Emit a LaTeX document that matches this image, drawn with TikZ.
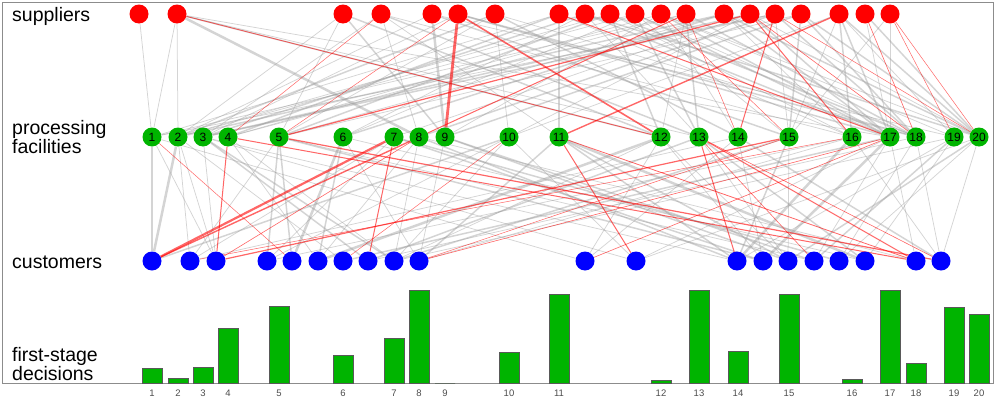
\documentclass[tikz,border=0pt]{standalone}
\usepackage{fontspec}
\setmainfont{Liberation Sans}
\usetikzlibrary{backgrounds}
\definecolor{supred}{HTML}{FF0000}
\definecolor{facgreen}{HTML}{00B400}
\definecolor{cusblue}{HTML}{0000FF}
\definecolor{framegray}{HTML}{8C8C8C}
\begin{document}
\begin{tikzpicture}[x=1pt, y=-1pt,
  sup/.style={circle, fill=supred, minimum size=19pt, inner sep=0pt},
  fac/.style={circle, fill=facgreen, minimum size=19pt, inner sep=0pt, font=\fontsize{12}{12}\selectfont},
  cus/.style={circle, fill=cusblue, minimum size=19pt, inner sep=0pt},
  lbl/.style={anchor=base west, align=left, inner sep=0pt, font=\fontsize{19.5}{19}\selectfont},
  num/.style={font=\fontsize{9.5}{9.5}\selectfont, text=black!70, inner sep=0pt},
  bar/.style={draw=black!65, fill=facgreen, line width=0.7pt},
  flow/.style={draw=black!40, draw opacity=0.42, line width=1.25*#1pt},
  hot/.style={draw=red, draw opacity=0.6, line width=#1pt}
]
  \useasboundingbox (0,0) rectangle (997,399);
  \draw[framegray, line width=1pt] (2,2) rectangle (993,383);

  % row labels (base = last line)
  \node[lbl] (lsup) at (12,21) {suppliers};
  \node[lbl] (lfac) at (12,153) {processing\\facilities};
  \node[lbl] (lcus) at (12,268) {customers};
  \node[lbl] (ldec) at (12,380) {first-stage\\decisions};

  % the three rows of the network
  \foreach \x [count=\i] in {139,177,343,381,432,458,495,559,585,610,635,661,686,724,750,775,801,839,865,890}
    \node[sup] (s\i) at (\x,14) {};
  \foreach \x [count=\i] in {152,178,203,228,279,343,394,419,445,509,559,661,699,738,789,852,890,916,954,979}
    \node[fac] (f\i) at (\x,137) {\i};
  \foreach \x [count=\i] in {152,190,216,267,292,318,343,368,394,419,585,636,737,763,788,814,839,865,916,941}
    \node[cus] (c\i) at (\x,261) {};

  % flows, behind the nodes
  \begin{scope}[on background layer]
    \foreach \a/\b/\w in {1/1/0.6, 2/1/0.6, 2/2/0.6, 2/8/2.0, 2/12/1.2, 2/13/0.6, 2/17/0.6,
      3/2/0.6, 3/5/0.6, 3/9/1.2, 3/12/1.2, 4/3/0.6, 4/8/0.6, 4/11/0.6, 4/13/1.2, 4/16/0.6,
      5/9/2.0, 5/2/0.6, 5/15/1.2, 5/19/0.6, 6/3/0.6, 6/17/1.2, 6/18/1.2,
      7/2/1.2, 7/5/0.6, 7/10/0.6, 7/14/1.2, 7/18/0.6, 8/11/2.0, 8/1/0.6, 8/4/1.2, 8/16/0.6,
      9/3/1.2, 9/6/0.6, 9/13/0.6, 9/17/1.2, 9/20/1.2, 10/2/0.6, 10/5/1.2, 10/12/1.2, 10/16/0.6, 10/18/1.2,
      11/2/0.6, 11/6/0.6, 11/13/1.2, 11/15/0.6, 11/17/1.2, 11/18/0.6,
      12/4/0.6, 12/9/0.6, 12/14/0.6, 12/17/1.2, 12/19/0.6, 12/20/0.6,
      13/1/0.6, 13/4/0.6, 13/12/0.6, 13/13/1.2, 13/18/1.2,
      14/2/1.2, 14/5/0.6, 14/6/1.2, 14/16/0.6, 14/17/1.2, 14/20/1.2,
      15/3/1.2, 15/7/0.6, 15/10/0.6, 15/17/1.2, 15/20/0.6, 16/1/0.6, 16/3/1.2, 16/8/1.2, 16/15/0.6, 16/18/1.2,
      17/5/0.6, 17/9/1.2, 17/15/1.2, 17/18/1.2, 17/20/1.2,
      18/10/0.6, 18/16/1.2, 18/17/1.2, 18/19/0.6, 18/20/1.2, 18/15/0.6,
      19/17/0.6, 19/20/1.2, 20/15/0.6, 20/17/0.6}
      \draw[flow=\w] (s\a) -- (f\b);
    \foreach \a/\b/\w in {1/1/1.2, 1/3/0.6, 1/11/0.6, 2/1/2.0, 2/2/0.6, 2/3/0.6, 2/7/0.6,
      3/3/0.6, 3/8/1.2, 3/9/1.2, 3/12/0.6, 3/13/0.6, 4/6/0.6, 4/9/0.6,
      5/2/0.6, 5/4/1.2, 5/5/1.2, 5/14/1.2, 5/16/0.6, 6/5/2.0, 6/6/1.2, 6/10/0.6, 6/18/0.6,
      7/2/0.6, 7/4/0.6, 7/14/1.2, 7/17/1.2, 8/6/0.6, 8/9/0.6, 8/13/1.2, 8/19/0.6,
      9/10/0.6, 9/15/1.2, 9/16/1.2, 10/1/1.2, 10/4/0.6, 10/9/0.6, 10/12/0.6,
      11/10/1.2, 11/13/1.2, 11/15/1.2, 11/18/2.0,
      12/6/2.0, 12/9/0.6, 12/11/0.6, 12/14/0.6, 12/15/0.6, 13/8/1.2, 13/15/0.6, 13/18/1.2,
      14/2/0.6, 14/11/0.6, 14/14/0.6, 14/20/1.2, 15/9/1.2, 15/13/1.2, 15/15/0.6,
      16/4/0.6, 16/10/0.6, 16/13/2.0, 16/20/0.6, 17/7/1.2, 17/14/2.0, 17/12/0.6, 17/16/0.6, 17/19/0.6,
      18/8/0.6, 18/17/0.6, 18/20/0.6, 19/9/0.6, 19/13/0.6, 19/16/1.2, 19/18/0.6,
      20/12/0.6, 20/15/1.2, 20/17/0.6, 20/20/0.6}
      \draw[flow=\w] (f\a) -- (c\b);
    \foreach \a/\b/\w in {6/9/2.8, 6/12/1.6, 2/12/0.8, 4/4/0.5, 6/5/0.5, 15/5/1.2, 18/11/1.4,
      16/14/1.0, 15/16/1.0, 8/17/1.0, 15/18/0.6, 19/18/0.6, 20/19/0.5, 20/20/0.5,
      16/20/0.5, 12/15/0.5, 13/14/0.5, 13/8/1.0}
      \draw[hot=\w] (s\a) -- (f\b);
    \foreach \a/\b/\w in {7/1/2.2, 8/1/1.4, 4/3/1.0, 1/5/0.5, 5/20/1.2, 4/19/1.0, 15/3/1.2,
      8/3/0.6, 7/8/1.0, 15/10/0.5, 11/12/1.0, 17/11/0.6, 13/13/1.0, 13/19/1.0,
      13/20/0.6, 13/16/0.6, 11/19/0.8, 10/7/0.5, 17/10/0.6, 16/2/0.5}
      \draw[hot=\w] (f\a) -- (c\b);
  \end{scope}

  % first-stage decisions
  \foreach \x/\h [count=\i] in {152/15,178/5,203/16,228/55,279/77,343/28,394/45,419/93,445/0,509/31,
      559/89,661/3,699/93,738/32,789/89,852/4,890/93,916/20,954/76,979/69} {
    \draw[bar] (\x-10,383) rectangle (\x+10,383-\h);
    \node[num] (n\i) at (\x,393) {\i};
  }
\end{tikzpicture}
\end{document}
